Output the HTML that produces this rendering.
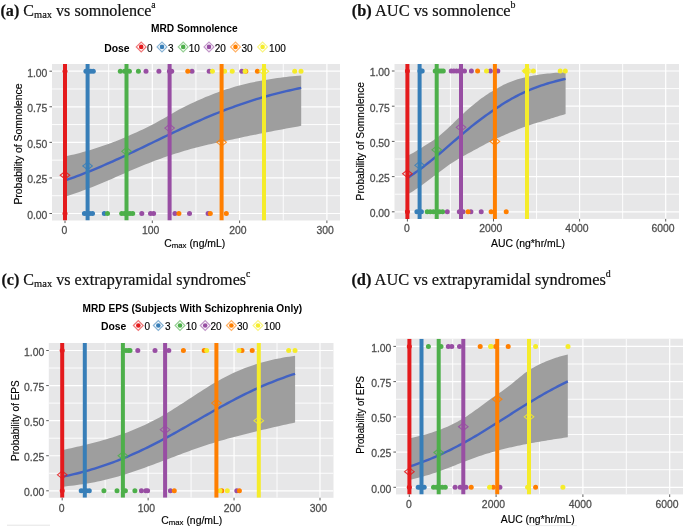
<!DOCTYPE html>
<html><head><meta charset="utf-8"><style>
html,body{margin:0;padding:0;background:#fff;}
body{width:685px;height:527px;overflow:hidden;}
svg{display:block;will-change:transform;}
.ti{font-family:"Liberation Serif",serif;font-size:16.2px;fill:#111;stroke:#111;stroke-width:0.2px;}
.tk{font-family:"Liberation Sans",sans-serif;font-size:10px;fill:#4d4d4d;stroke:#4d4d4d;stroke-width:0.25px;}
.ax{font-family:"Liberation Sans",sans-serif;font-size:10px;fill:#000;stroke:#000;stroke-width:0.15px;}
.lt{font-family:"Liberation Sans",sans-serif;font-size:10px;font-weight:bold;fill:#000;}
.lk{font-family:"Liberation Sans",sans-serif;font-size:10px;fill:#000;stroke:#000;stroke-width:0.15px;}
</style></head><body>
<svg width="685" height="527" viewBox="0 0 685 527">
<rect width="685" height="527" fill="#ffffff"/>
<clipPath id="ca"><rect x="52" y="64" width="288" height="156.5"/></clipPath>
<rect x="52" y="64" width="288" height="156.5" fill="#e7e7e8"/>
<g clip-path="url(#ca)">
<line x1="108.65" y1="64" x2="108.65" y2="220.5" stroke="#ffffff" stroke-width="0.9"/>
<line x1="195.95" y1="64" x2="195.95" y2="220.5" stroke="#ffffff" stroke-width="0.9"/>
<line x1="283.25" y1="64" x2="283.25" y2="220.5" stroke="#ffffff" stroke-width="0.9"/>
<line x1="52" y1="195.71" x2="340" y2="195.71" stroke="#ffffff" stroke-width="0.9"/>
<line x1="52" y1="160.14" x2="340" y2="160.14" stroke="#ffffff" stroke-width="0.9"/>
<line x1="52" y1="124.56" x2="340" y2="124.56" stroke="#ffffff" stroke-width="0.9"/>
<line x1="52" y1="88.99" x2="340" y2="88.99" stroke="#ffffff" stroke-width="0.9"/>
<line x1="65" y1="64" x2="65" y2="220.5" stroke="#ffffff" stroke-width="1.2"/>
<line x1="152.3" y1="64" x2="152.3" y2="220.5" stroke="#ffffff" stroke-width="1.2"/>
<line x1="239.6" y1="64" x2="239.6" y2="220.5" stroke="#ffffff" stroke-width="1.2"/>
<line x1="326.9" y1="64" x2="326.9" y2="220.5" stroke="#ffffff" stroke-width="1.2"/>
<line x1="52" y1="213.5" x2="340" y2="213.5" stroke="#ffffff" stroke-width="1.2"/>
<line x1="52" y1="177.93" x2="340" y2="177.93" stroke="#ffffff" stroke-width="1.2"/>
<line x1="52" y1="142.35" x2="340" y2="142.35" stroke="#ffffff" stroke-width="1.2"/>
<line x1="52" y1="106.78" x2="340" y2="106.78" stroke="#ffffff" stroke-width="1.2"/>
<line x1="52" y1="71.2" x2="340" y2="71.2" stroke="#ffffff" stroke-width="1.2"/>
<path d="M65,156.47 L67.99,155.79 L70.98,155.1 L73.97,154.39 L76.96,153.66 L79.95,152.89 L82.94,152.1 L85.93,151.26 L88.92,150.39 L91.91,149.48 L94.9,148.53 L97.89,147.57 L100.88,146.57 L103.87,145.55 L106.86,144.49 L109.85,143.41 L112.84,142.29 L115.83,141.13 L118.82,139.95 L121.81,138.72 L124.8,137.46 L127.79,136.17 L130.78,134.84 L133.77,133.51 L136.76,132.18 L139.75,130.83 L142.74,129.46 L145.73,128.05 L148.72,126.58 L151.71,125.04 L154.7,123.44 L157.69,121.8 L160.68,120.12 L163.67,118.42 L166.66,116.72 L169.65,114.99 L172.64,113.22 L175.63,111.46 L178.62,109.79 L181.61,108.25 L184.59,106.75 L187.58,105.28 L190.57,103.83 L193.56,102.42 L196.55,101.03 L199.54,99.69 L202.53,98.38 L205.52,97.11 L208.51,95.88 L211.5,94.68 L214.49,93.53 L217.48,92.42 L220.47,91.35 L223.46,90.32 L226.45,89.34 L229.44,88.39 L232.43,87.48 L235.42,86.61 L238.41,85.79 L241.4,84.99 L244.39,84.24 L247.38,83.52 L250.37,82.83 L253.36,82.18 L256.35,81.56 L259.34,80.98 L262.33,80.42 L265.32,79.89 L268.31,79.39 L271.3,78.91 L274.29,78.46 L277.28,78.04 L280.27,77.64 L283.26,77.26 L286.25,76.9 L289.24,76.56 L292.23,76.24 L295.22,75.94 L298.21,75.65 L301.2,75.38 L301.2,125.85 L298.21,126.39 L295.22,126.94 L292.23,127.49 L289.24,128.04 L286.25,128.59 L283.26,129.16 L280.27,129.72 L277.28,130.29 L274.29,130.86 L271.3,131.44 L268.31,132.02 L265.32,132.61 L262.33,133.2 L259.34,133.8 L256.35,134.4 L253.36,135.01 L250.37,135.62 L247.38,136.24 L244.39,136.87 L241.4,137.5 L238.41,138.13 L235.42,138.77 L232.43,139.42 L229.44,140.06 L226.45,140.71 L223.46,141.34 L220.47,141.98 L217.48,142.61 L214.49,143.25 L211.5,143.91 L208.51,144.57 L205.52,145.25 L202.53,145.96 L199.54,146.69 L196.55,147.45 L193.56,148.25 L190.57,149.08 L187.58,149.95 L184.59,150.84 L181.61,151.75 L178.62,152.67 L175.63,153.62 L172.64,154.59 L169.65,155.57 L166.66,156.59 L163.67,157.62 L160.68,158.68 L157.69,159.76 L154.7,160.87 L151.71,162.01 L148.72,163.16 L145.73,164.34 L142.74,165.55 L139.75,166.78 L136.76,168.02 L133.77,169.29 L130.78,170.57 L127.79,171.86 L124.8,173.16 L121.81,174.47 L118.82,175.78 L115.83,177.1 L112.84,178.4 L109.85,179.71 L106.86,181 L103.87,182.27 L100.88,183.54 L97.89,184.78 L94.9,185.99 L91.91,187.19 L88.92,188.35 L85.93,189.49 L82.94,190.6 L79.95,191.67 L76.96,192.72 L73.97,193.72 L70.98,194.7 L67.99,195.64 L65,196.54Z" fill="#9e9e9e"/>
<path d="M65,180.48 L67.99,179.44 L70.98,178.38 L73.97,177.29 L76.96,176.18 L79.95,175.05 L82.94,173.9 L85.93,172.72 L88.92,171.53 L91.91,170.32 L94.9,169.08 L97.89,167.83 L100.88,166.56 L103.87,165.27 L106.86,163.97 L109.85,162.65 L112.84,161.31 L115.83,159.96 L118.82,158.6 L121.81,157.22 L124.8,155.83 L127.79,154.43 L130.78,153.02 L133.77,151.6 L136.76,150.17 L139.75,148.74 L142.74,147.3 L145.73,145.86 L148.72,144.42 L151.71,142.97 L154.7,141.53 L157.69,140.08 L160.68,138.64 L163.67,137.19 L166.66,135.76 L169.65,134.33 L172.64,132.9 L175.63,131.48 L178.62,130.08 L181.61,128.68 L184.59,127.29 L187.58,125.91 L190.57,124.55 L193.56,123.2 L196.55,121.87 L199.54,120.55 L202.53,119.24 L205.52,117.96 L208.51,116.69 L211.5,115.44 L214.49,114.21 L217.48,113 L220.47,111.81 L223.46,110.64 L226.45,109.49 L229.44,108.36 L232.43,107.26 L235.42,106.17 L238.41,105.11 L241.4,104.07 L244.39,103.06 L247.38,102.06 L250.37,101.09 L253.36,100.14 L256.35,99.22 L259.34,98.31 L262.33,97.43 L265.32,96.57 L268.31,95.73 L271.3,94.92 L274.29,94.13 L277.28,93.36 L280.27,92.61 L283.26,91.88 L286.25,91.17 L289.24,90.48 L292.23,89.81 L295.22,89.16 L298.21,88.54 L301.2,87.93" fill="none" stroke="#4262c2" stroke-width="2.4" stroke-linejoin="round"/>
<circle cx="65" cy="71.2" r="2.5" fill="#e41a1c"/>
<circle cx="85.9" cy="71.2" r="2.5" fill="#377eb8"/>
<circle cx="88.37" cy="71.2" r="2.5" fill="#377eb8"/>
<circle cx="90.83" cy="71.2" r="2.5" fill="#377eb8"/>
<circle cx="93.3" cy="71.2" r="2.5" fill="#377eb8"/>
<circle cx="120.3" cy="71.2" r="2.5" fill="#4daf4a"/>
<circle cx="124.5" cy="71.2" r="2.5" fill="#4daf4a"/>
<circle cx="129.4" cy="71.2" r="2.5" fill="#4daf4a"/>
<circle cx="138.4" cy="71.2" r="2.5" fill="#4daf4a"/>
<circle cx="146" cy="71.2" r="2.5" fill="#984ea3"/>
<circle cx="158.9" cy="71.2" r="2.5" fill="#984ea3"/>
<circle cx="169.4" cy="71.2" r="2.5" fill="#984ea3"/>
<circle cx="170.55" cy="71.2" r="2.5" fill="#984ea3"/>
<circle cx="171.7" cy="71.2" r="2.5" fill="#984ea3"/>
<circle cx="192" cy="71.2" r="2.5" fill="#984ea3"/>
<circle cx="209.2" cy="71.2" r="2.5" fill="#984ea3"/>
<circle cx="241.8" cy="71.2" r="2.5" fill="#984ea3"/>
<circle cx="187.8" cy="71.2" r="2.5" fill="#ff7f00"/>
<circle cx="245.8" cy="71.2" r="2.5" fill="#ff7f00"/>
<circle cx="257.4" cy="71.2" r="2.5" fill="#ff7f00"/>
<circle cx="212.4" cy="71.2" r="2.5" fill="#f5ec2a"/>
<circle cx="224.6" cy="71.2" r="2.5" fill="#f5ec2a"/>
<circle cx="232.2" cy="71.2" r="2.5" fill="#f5ec2a"/>
<circle cx="245.1" cy="71.2" r="2.5" fill="#f5ec2a"/>
<circle cx="294.7" cy="71.2" r="2.5" fill="#f5ec2a"/>
<circle cx="301" cy="71.2" r="2.5" fill="#f5ec2a"/>
<circle cx="65" cy="213.5" r="2.5" fill="#e41a1c"/>
<circle cx="84.4" cy="213.5" r="2.5" fill="#377eb8"/>
<circle cx="87.1" cy="213.5" r="2.5" fill="#377eb8"/>
<circle cx="89.8" cy="213.5" r="2.5" fill="#377eb8"/>
<circle cx="92.5" cy="213.5" r="2.5" fill="#377eb8"/>
<circle cx="104.3" cy="213.5" r="2.5" fill="#377eb8"/>
<circle cx="107.5" cy="213.5" r="2.5" fill="#4daf4a"/>
<circle cx="121.7" cy="213.5" r="2.5" fill="#4daf4a"/>
<circle cx="124.45" cy="213.5" r="2.5" fill="#4daf4a"/>
<circle cx="127.2" cy="213.5" r="2.5" fill="#4daf4a"/>
<circle cx="129.95" cy="213.5" r="2.5" fill="#4daf4a"/>
<circle cx="132.7" cy="213.5" r="2.5" fill="#4daf4a"/>
<circle cx="141.8" cy="213.5" r="2.5" fill="#984ea3"/>
<circle cx="150.5" cy="213.5" r="2.5" fill="#984ea3"/>
<circle cx="153.6" cy="213.5" r="2.5" fill="#984ea3"/>
<circle cx="174.9" cy="213.5" r="2.5" fill="#984ea3"/>
<circle cx="189.5" cy="213.5" r="2.5" fill="#984ea3"/>
<circle cx="208.1" cy="213.5" r="2.5" fill="#984ea3"/>
<circle cx="178.9" cy="213.5" r="2.5" fill="#ff7f00"/>
<circle cx="210.3" cy="213.5" r="2.5" fill="#ff7f00"/>
<circle cx="226.3" cy="213.5" r="2.5" fill="#ff7f00"/>
<line x1="65" y1="64" x2="65" y2="220.5" stroke="#e41a1c" stroke-width="4"/>
<line x1="87.6" y1="64" x2="87.6" y2="220.5" stroke="#377eb8" stroke-width="4"/>
<line x1="126.5" y1="64" x2="126.5" y2="220.5" stroke="#4daf4a" stroke-width="4"/>
<line x1="169.6" y1="64" x2="169.6" y2="220.5" stroke="#984ea3" stroke-width="4"/>
<line x1="221.6" y1="64" x2="221.6" y2="220.5" stroke="#ff7f00" stroke-width="4"/>
<line x1="264" y1="64" x2="264" y2="220.5" stroke="#f5ec2a" stroke-width="4"/>
<path d="M60.2,175.22 L65,171.42 L69.8,175.22 L65,179.02Z" fill="none" stroke="#e41a1c" stroke-width="1.1" stroke-opacity="0.85"/>
<path d="M82.8,165.97 L87.6,162.17 L92.4,165.97 L87.6,169.77Z" fill="none" stroke="#377eb8" stroke-width="1.1" stroke-opacity="0.85"/>
<path d="M121.7,151.31 L126.5,147.51 L131.3,151.31 L126.5,155.11Z" fill="none" stroke="#4daf4a" stroke-width="1.1" stroke-opacity="0.85"/>
<path d="M164.8,128.12 L169.6,124.32 L174.4,128.12 L169.6,131.92Z" fill="none" stroke="#984ea3" stroke-width="1.1" stroke-opacity="0.85"/>
<path d="M216.8,142.35 L221.6,138.55 L226.4,142.35 L221.6,146.15Z" fill="none" stroke="#ff7f00" stroke-width="1.1" stroke-opacity="0.85"/>
<path d="M259.2,71.2 L264,67.4 L268.8,71.2 L264,75Z" fill="none" stroke="#f5ec2a" stroke-width="1.1" stroke-opacity="0.85"/>
</g>
<line x1="49.4" y1="213.5" x2="52" y2="213.5" stroke="#333" stroke-width="0.8"/>
<text transform="translate(47.4,218.8) scale(1.04,1)" text-anchor="end" class="tk">0.00</text>
<line x1="49.4" y1="177.93" x2="52" y2="177.93" stroke="#333" stroke-width="0.8"/>
<text transform="translate(47.4,183.23) scale(1.04,1)" text-anchor="end" class="tk">0.25</text>
<line x1="49.4" y1="142.35" x2="52" y2="142.35" stroke="#333" stroke-width="0.8"/>
<text transform="translate(47.4,147.65) scale(1.04,1)" text-anchor="end" class="tk">0.50</text>
<line x1="49.4" y1="106.78" x2="52" y2="106.78" stroke="#333" stroke-width="0.8"/>
<text transform="translate(47.4,112.08) scale(1.04,1)" text-anchor="end" class="tk">0.75</text>
<line x1="49.4" y1="71.2" x2="52" y2="71.2" stroke="#333" stroke-width="0.8"/>
<text transform="translate(47.4,76.5) scale(1.04,1)" text-anchor="end" class="tk">1.00</text>
<line x1="65" y1="220.5" x2="65" y2="223.1" stroke="#333" stroke-width="0.8"/>
<text transform="translate(64.5,234.2) scale(1.04,1)" text-anchor="middle" class="tk">0</text>
<line x1="152.3" y1="220.5" x2="152.3" y2="223.1" stroke="#333" stroke-width="0.8"/>
<text transform="translate(150.6,234.2) scale(1.04,1)" text-anchor="middle" class="tk">100</text>
<line x1="239.6" y1="220.5" x2="239.6" y2="223.1" stroke="#333" stroke-width="0.8"/>
<text transform="translate(237.9,234.2) scale(1.04,1)" text-anchor="middle" class="tk">200</text>
<line x1="326.9" y1="220.5" x2="326.9" y2="223.1" stroke="#333" stroke-width="0.8"/>
<text transform="translate(325.2,234.2) scale(1.04,1)" text-anchor="middle" class="tk">300</text>
<text transform="translate(22.3,144) rotate(-90) scale(1.044,1)" text-anchor="middle" class="ax">Probability of Somnolence</text>
<text transform="translate(164.3,246.5) scale(1.04,1)" class="ax">C<tspan font-size="7.5" dy="1.6">max</tspan><tspan dy="-1.6"> (ng/mL)</tspan></text>
<clipPath id="cb"><rect x="394.5" y="64" width="284.5" height="154.9"/></clipPath>
<rect x="394.5" y="64" width="284.5" height="154.9" fill="#e7e7e8"/>
<g clip-path="url(#cb)">
<line x1="450.45" y1="64" x2="450.45" y2="218.9" stroke="#ffffff" stroke-width="0.9"/>
<line x1="536.55" y1="64" x2="536.55" y2="218.9" stroke="#ffffff" stroke-width="0.9"/>
<line x1="622.65" y1="64" x2="622.65" y2="218.9" stroke="#ffffff" stroke-width="0.9"/>
<line x1="394.5" y1="194.2" x2="679" y2="194.2" stroke="#ffffff" stroke-width="0.9"/>
<line x1="394.5" y1="159" x2="679" y2="159" stroke="#ffffff" stroke-width="0.9"/>
<line x1="394.5" y1="123.8" x2="679" y2="123.8" stroke="#ffffff" stroke-width="0.9"/>
<line x1="394.5" y1="88.6" x2="679" y2="88.6" stroke="#ffffff" stroke-width="0.9"/>
<line x1="407.4" y1="64" x2="407.4" y2="218.9" stroke="#ffffff" stroke-width="1.2"/>
<line x1="493.5" y1="64" x2="493.5" y2="218.9" stroke="#ffffff" stroke-width="1.2"/>
<line x1="579.6" y1="64" x2="579.6" y2="218.9" stroke="#ffffff" stroke-width="1.2"/>
<line x1="665.7" y1="64" x2="665.7" y2="218.9" stroke="#ffffff" stroke-width="1.2"/>
<line x1="394.5" y1="211.8" x2="679" y2="211.8" stroke="#ffffff" stroke-width="1.2"/>
<line x1="394.5" y1="176.6" x2="679" y2="176.6" stroke="#ffffff" stroke-width="1.2"/>
<line x1="394.5" y1="141.4" x2="679" y2="141.4" stroke="#ffffff" stroke-width="1.2"/>
<line x1="394.5" y1="106.2" x2="679" y2="106.2" stroke="#ffffff" stroke-width="1.2"/>
<line x1="394.5" y1="71" x2="679" y2="71" stroke="#ffffff" stroke-width="1.2"/>
<path d="M407.4,155.9 L409.4,154.85 L411.41,153.78 L413.41,152.68 L415.41,151.54 L417.41,150.36 L419.42,149.15 L421.42,147.9 L423.42,146.61 L425.42,145.28 L427.43,143.98 L429.43,142.74 L431.43,141.5 L433.43,140.22 L435.44,138.87 L437.44,137.4 L439.44,135.78 L441.44,134.07 L443.45,132.31 L445.45,130.51 L447.45,128.67 L449.45,126.8 L451.46,124.9 L453.46,122.98 L455.46,121.05 L457.46,119.12 L459.47,117.19 L461.47,115.28 L463.47,113.38 L465.47,111.54 L467.48,109.75 L469.48,108.02 L471.48,106.33 L473.48,104.67 L475.49,103.04 L477.49,101.43 L479.49,99.87 L481.49,98.35 L483.5,96.9 L485.5,95.5 L487.5,94.16 L489.5,92.87 L491.51,91.65 L493.51,90.47 L495.51,89.3 L497.51,88.13 L499.52,86.99 L501.52,85.89 L503.52,84.85 L505.52,83.91 L507.53,83.03 L509.53,82.19 L511.53,81.41 L513.53,80.67 L515.54,79.98 L517.54,79.33 L519.54,78.73 L521.54,78.17 L523.55,77.66 L525.55,77.18 L527.55,76.73 L529.55,76.32 L531.56,75.93 L533.56,75.56 L535.56,75.22 L537.56,74.9 L539.57,74.6 L541.57,74.33 L543.57,74.07 L545.57,73.83 L547.58,73.61 L549.58,73.4 L551.58,73.21 L553.58,73.03 L555.59,72.87 L557.59,72.72 L559.59,72.58 L561.59,72.46 L563.6,72.34 L565.6,72.24 L565.6,114.03 L563.6,114.64 L561.59,115.25 L559.59,115.86 L557.59,116.47 L555.59,117.08 L553.58,117.7 L551.58,118.32 L549.58,118.95 L547.58,119.57 L545.57,120.18 L543.57,120.78 L541.57,121.38 L539.57,121.98 L537.56,122.58 L535.56,123.2 L533.56,123.82 L531.56,124.47 L529.55,125.14 L527.55,125.83 L525.55,126.56 L523.55,127.31 L521.54,128.07 L519.54,128.84 L517.54,129.61 L515.54,130.41 L513.53,131.21 L511.53,132.02 L509.53,132.84 L507.53,133.68 L505.52,134.53 L503.52,135.4 L501.52,136.27 L499.52,137.17 L497.51,138.09 L495.51,139.04 L493.51,140.01 L491.51,141.01 L489.5,142.03 L487.5,143.06 L485.5,144.11 L483.5,145.17 L481.49,146.24 L479.49,147.32 L477.49,148.4 L475.49,149.48 L473.48,150.57 L471.48,151.65 L469.48,152.73 L467.48,153.82 L465.47,154.92 L463.47,156.03 L461.47,157.16 L459.47,158.32 L457.46,159.51 L455.46,160.72 L453.46,161.98 L451.46,163.27 L449.45,164.61 L447.45,165.99 L445.45,167.43 L443.45,168.9 L441.44,170.39 L439.44,171.9 L437.44,173.43 L435.44,174.96 L433.43,176.49 L431.43,178.03 L429.43,179.56 L427.43,181.07 L425.42,182.57 L423.42,184.04 L421.42,185.49 L419.42,186.9 L417.41,188.28 L415.41,189.62 L413.41,190.91 L411.41,192.16 L409.4,193.37 L407.4,194.53Z" fill="#9e9e9e"/>
<path d="M407.4,177.97 L409.4,176.66 L411.41,175.32 L413.41,173.95 L415.41,172.55 L417.41,171.12 L419.42,169.67 L421.42,168.18 L423.42,166.67 L425.42,165.13 L427.43,163.56 L429.43,161.98 L431.43,160.37 L433.43,158.74 L435.44,157.09 L437.44,155.43 L439.44,153.74 L441.44,152.05 L443.45,150.34 L445.45,148.63 L447.45,146.91 L449.45,145.18 L451.46,143.45 L453.46,141.71 L455.46,139.98 L457.46,138.25 L459.47,136.53 L461.47,134.82 L463.47,133.11 L465.47,131.42 L467.48,129.74 L469.48,128.07 L471.48,126.43 L473.48,124.83 L475.49,123.26 L477.49,121.72 L479.49,120.2 L481.49,118.72 L483.5,117.26 L485.5,115.81 L487.5,114.39 L489.5,112.98 L491.51,111.58 L493.51,110.18 L495.51,108.81 L497.51,107.46 L499.52,106.13 L501.52,104.84 L503.52,103.57 L505.52,102.33 L507.53,101.13 L509.53,99.95 L511.53,98.81 L513.53,97.69 L515.54,96.61 L517.54,95.57 L519.54,94.55 L521.54,93.58 L523.55,92.63 L525.55,91.72 L527.55,90.84 L529.55,89.99 L531.56,89.16 L533.56,88.37 L535.56,87.6 L537.56,86.86 L539.57,86.14 L541.57,85.45 L543.57,84.78 L545.57,84.14 L547.58,83.52 L549.58,82.92 L551.58,82.34 L553.58,81.79 L555.59,81.25 L557.59,80.73 L559.59,80.23 L561.59,79.75 L563.6,79.28 L565.6,78.84" fill="none" stroke="#4262c2" stroke-width="2.4" stroke-linejoin="round"/>
<circle cx="407.4" cy="71" r="2.5" fill="#e41a1c"/>
<circle cx="419.9" cy="71" r="2.5" fill="#377eb8"/>
<circle cx="421.05" cy="71" r="2.5" fill="#377eb8"/>
<circle cx="422.2" cy="71" r="2.5" fill="#377eb8"/>
<circle cx="435.2" cy="71" r="2.5" fill="#4daf4a"/>
<circle cx="437.23" cy="71" r="2.5" fill="#4daf4a"/>
<circle cx="439.25" cy="71" r="2.5" fill="#4daf4a"/>
<circle cx="441.27" cy="71" r="2.5" fill="#4daf4a"/>
<circle cx="443.3" cy="71" r="2.5" fill="#4daf4a"/>
<circle cx="451.2" cy="71" r="2.5" fill="#984ea3"/>
<circle cx="453.86" cy="71" r="2.5" fill="#984ea3"/>
<circle cx="456.52" cy="71" r="2.5" fill="#984ea3"/>
<circle cx="459.18" cy="71" r="2.5" fill="#984ea3"/>
<circle cx="461.84" cy="71" r="2.5" fill="#984ea3"/>
<circle cx="464.5" cy="71" r="2.5" fill="#984ea3"/>
<circle cx="471.4" cy="71" r="2.5" fill="#984ea3"/>
<circle cx="490.4" cy="71" r="2.5" fill="#984ea3"/>
<circle cx="497.8" cy="71" r="2.5" fill="#984ea3"/>
<circle cx="477.6" cy="71" r="2.5" fill="#ff7f00"/>
<circle cx="486.5" cy="71" r="2.5" fill="#f5ec2a"/>
<circle cx="525.3" cy="71" r="2.5" fill="#f5ec2a"/>
<circle cx="527.2" cy="71" r="2.5" fill="#f5ec2a"/>
<circle cx="533.4" cy="71" r="2.5" fill="#f5ec2a"/>
<circle cx="560.2" cy="71" r="2.5" fill="#f5ec2a"/>
<circle cx="565.3" cy="71" r="2.5" fill="#f5ec2a"/>
<circle cx="407.4" cy="211.8" r="2.5" fill="#e41a1c"/>
<circle cx="416.9" cy="211.8" r="2.5" fill="#377eb8"/>
<circle cx="419.15" cy="211.8" r="2.5" fill="#377eb8"/>
<circle cx="421.4" cy="211.8" r="2.5" fill="#377eb8"/>
<circle cx="427.2" cy="211.8" r="2.5" fill="#4daf4a"/>
<circle cx="430.28" cy="211.8" r="2.5" fill="#4daf4a"/>
<circle cx="433.36" cy="211.8" r="2.5" fill="#4daf4a"/>
<circle cx="436.44" cy="211.8" r="2.5" fill="#4daf4a"/>
<circle cx="439.52" cy="211.8" r="2.5" fill="#4daf4a"/>
<circle cx="442.6" cy="211.8" r="2.5" fill="#4daf4a"/>
<circle cx="447.3" cy="211.8" r="2.5" fill="#984ea3"/>
<circle cx="459.3" cy="211.8" r="2.5" fill="#984ea3"/>
<circle cx="461.15" cy="211.8" r="2.5" fill="#984ea3"/>
<circle cx="463" cy="211.8" r="2.5" fill="#984ea3"/>
<circle cx="470.9" cy="211.8" r="2.5" fill="#984ea3"/>
<circle cx="481.2" cy="211.8" r="2.5" fill="#984ea3"/>
<circle cx="468" cy="211.8" r="2.5" fill="#ff7f00"/>
<circle cx="491.1" cy="211.8" r="2.5" fill="#ff7f00"/>
<circle cx="506.2" cy="211.8" r="2.5" fill="#ff7f00"/>
<line x1="407.4" y1="64" x2="407.4" y2="218.9" stroke="#e41a1c" stroke-width="4"/>
<line x1="419.6" y1="64" x2="419.6" y2="218.9" stroke="#377eb8" stroke-width="4"/>
<line x1="436.7" y1="64" x2="436.7" y2="218.9" stroke="#4daf4a" stroke-width="4"/>
<line x1="461" y1="64" x2="461" y2="218.9" stroke="#984ea3" stroke-width="4"/>
<line x1="494.9" y1="64" x2="494.9" y2="218.9" stroke="#ff7f00" stroke-width="4"/>
<line x1="527" y1="64" x2="527" y2="218.9" stroke="#f5ec2a" stroke-width="4"/>
<path d="M402.6,173.78 L407.4,169.98 L412.2,173.78 L407.4,177.58Z" fill="none" stroke="#e41a1c" stroke-width="1.1" stroke-opacity="0.85"/>
<path d="M414.8,165.34 L419.6,161.54 L424.4,165.34 L419.6,169.14Z" fill="none" stroke="#377eb8" stroke-width="1.1" stroke-opacity="0.85"/>
<path d="M431.9,149.85 L436.7,146.05 L441.5,149.85 L436.7,153.65Z" fill="none" stroke="#4daf4a" stroke-width="1.1" stroke-opacity="0.85"/>
<path d="M456.2,127.32 L461,123.52 L465.8,127.32 L461,131.12Z" fill="none" stroke="#984ea3" stroke-width="1.1" stroke-opacity="0.85"/>
<path d="M490.1,141.4 L494.9,137.6 L499.7,141.4 L494.9,145.2Z" fill="none" stroke="#ff7f00" stroke-width="1.1" stroke-opacity="0.85"/>
<path d="M522.2,71 L527,67.2 L531.8,71 L527,74.8Z" fill="none" stroke="#f5ec2a" stroke-width="1.1" stroke-opacity="0.85"/>
</g>
<line x1="391.9" y1="211.8" x2="394.5" y2="211.8" stroke="#333" stroke-width="0.8"/>
<text transform="translate(389.9,217.1) scale(1.04,1)" text-anchor="end" class="tk">0.00</text>
<line x1="391.9" y1="176.6" x2="394.5" y2="176.6" stroke="#333" stroke-width="0.8"/>
<text transform="translate(389.9,181.9) scale(1.04,1)" text-anchor="end" class="tk">0.25</text>
<line x1="391.9" y1="141.4" x2="394.5" y2="141.4" stroke="#333" stroke-width="0.8"/>
<text transform="translate(389.9,146.7) scale(1.04,1)" text-anchor="end" class="tk">0.50</text>
<line x1="391.9" y1="106.2" x2="394.5" y2="106.2" stroke="#333" stroke-width="0.8"/>
<text transform="translate(389.9,111.5) scale(1.04,1)" text-anchor="end" class="tk">0.75</text>
<line x1="391.9" y1="71" x2="394.5" y2="71" stroke="#333" stroke-width="0.8"/>
<text transform="translate(389.9,76.3) scale(1.04,1)" text-anchor="end" class="tk">1.00</text>
<line x1="407.4" y1="218.9" x2="407.4" y2="221.5" stroke="#333" stroke-width="0.8"/>
<text transform="translate(406.9,231.8) scale(1.04,1)" text-anchor="middle" class="tk">0</text>
<line x1="493.5" y1="218.9" x2="493.5" y2="221.5" stroke="#333" stroke-width="0.8"/>
<text transform="translate(490.8,231.8) scale(1.04,1)" text-anchor="middle" class="tk">2000</text>
<line x1="579.6" y1="218.9" x2="579.6" y2="221.5" stroke="#333" stroke-width="0.8"/>
<text transform="translate(576.9,231.8) scale(1.04,1)" text-anchor="middle" class="tk">4000</text>
<line x1="665.7" y1="218.9" x2="665.7" y2="221.5" stroke="#333" stroke-width="0.8"/>
<text transform="translate(663,231.8) scale(1.04,1)" text-anchor="middle" class="tk">6000</text>
<text transform="translate(364.3,141.2) rotate(-90) scale(1.02,1)" text-anchor="middle" class="ax">Probability of Somnolence</text>
<text transform="translate(491,246.8) scale(1.04,1)" class="ax">AUC (ng*hr/mL)</text>
<clipPath id="cc"><rect x="48.8" y="343" width="284.7" height="154.8"/></clipPath>
<rect x="48.8" y="343" width="284.7" height="154.8" fill="#e7e7e8"/>
<g clip-path="url(#cc)">
<line x1="105.16" y1="343" x2="105.16" y2="497.8" stroke="#ffffff" stroke-width="0.9"/>
<line x1="191.09" y1="343" x2="191.09" y2="497.8" stroke="#ffffff" stroke-width="0.9"/>
<line x1="277.02" y1="343" x2="277.02" y2="497.8" stroke="#ffffff" stroke-width="0.9"/>
<line x1="48.8" y1="473.26" x2="333.5" y2="473.26" stroke="#ffffff" stroke-width="0.9"/>
<line x1="48.8" y1="438.19" x2="333.5" y2="438.19" stroke="#ffffff" stroke-width="0.9"/>
<line x1="48.8" y1="403.11" x2="333.5" y2="403.11" stroke="#ffffff" stroke-width="0.9"/>
<line x1="48.8" y1="368.04" x2="333.5" y2="368.04" stroke="#ffffff" stroke-width="0.9"/>
<line x1="62.2" y1="343" x2="62.2" y2="497.8" stroke="#ffffff" stroke-width="1.2"/>
<line x1="148.13" y1="343" x2="148.13" y2="497.8" stroke="#ffffff" stroke-width="1.2"/>
<line x1="234.06" y1="343" x2="234.06" y2="497.8" stroke="#ffffff" stroke-width="1.2"/>
<line x1="319.99" y1="343" x2="319.99" y2="497.8" stroke="#ffffff" stroke-width="1.2"/>
<line x1="48.8" y1="490.8" x2="333.5" y2="490.8" stroke="#ffffff" stroke-width="1.2"/>
<line x1="48.8" y1="455.73" x2="333.5" y2="455.73" stroke="#ffffff" stroke-width="1.2"/>
<line x1="48.8" y1="420.65" x2="333.5" y2="420.65" stroke="#ffffff" stroke-width="1.2"/>
<line x1="48.8" y1="385.57" x2="333.5" y2="385.57" stroke="#ffffff" stroke-width="1.2"/>
<line x1="48.8" y1="350.5" x2="333.5" y2="350.5" stroke="#ffffff" stroke-width="1.2"/>
<path d="M62.2,450.03 L65.15,449.43 L68.1,448.81 L71.04,448.17 L73.99,447.53 L76.94,446.87 L79.89,446.19 L82.84,445.5 L85.78,444.79 L88.73,444.06 L91.68,443.32 L94.63,442.55 L97.58,441.76 L100.53,440.95 L103.47,440.12 L106.42,439.26 L109.37,438.37 L112.32,437.46 L115.27,436.51 L118.21,435.54 L121.16,434.52 L124.11,433.47 L127.06,432.39 L130.01,431.26 L132.95,430.09 L135.9,428.87 L138.85,427.61 L141.8,426.3 L144.75,424.94 L147.69,423.53 L150.64,422.07 L153.59,420.56 L156.54,418.99 L159.49,417.38 L162.44,415.71 L165.38,414 L168.33,412.24 L171.28,410.45 L174.23,408.61 L177.18,406.75 L180.12,404.85 L183.07,402.94 L186.02,401.02 L188.97,399.08 L191.92,397.15 L194.86,395.21 L197.81,393.3 L200.76,391.39 L203.71,389.52 L206.66,387.67 L209.61,385.86 L212.55,384.08 L215.5,382.36 L218.45,380.67 L221.4,379.04 L224.35,377.47 L227.29,375.95 L230.24,374.48 L233.19,373.08 L236.14,371.73 L239.09,370.44 L242.03,369.22 L244.98,368.05 L247.93,366.94 L250.88,365.89 L253.83,364.89 L256.77,363.95 L259.72,363.06 L262.67,362.22 L265.62,361.43 L268.57,360.68 L271.52,359.98 L274.46,359.33 L277.41,358.71 L280.36,358.14 L283.31,357.6 L286.26,357.1 L289.2,356.63 L292.15,356.19 L295.1,355.78 L295.1,422.55 L292.15,423.19 L289.2,423.82 L286.26,424.47 L283.31,425.12 L280.36,425.77 L277.41,426.43 L274.46,427.1 L271.52,427.77 L268.57,428.45 L265.62,429.14 L262.67,429.83 L259.72,430.54 L256.77,431.24 L253.83,431.96 L250.88,432.68 L247.93,433.41 L244.98,434.15 L242.03,434.9 L239.09,435.66 L236.14,436.43 L233.19,437.22 L230.24,438.01 L227.29,438.82 L224.35,439.64 L221.4,440.48 L218.45,441.34 L215.5,442.22 L212.55,443.13 L209.61,444.06 L206.66,445.01 L203.71,445.99 L200.76,446.99 L197.81,448 L194.86,449.04 L191.92,450.09 L188.97,451.16 L186.02,452.25 L183.07,453.34 L180.12,454.45 L177.18,455.56 L174.23,456.68 L171.28,457.79 L168.33,458.9 L165.38,460 L162.44,461.1 L159.49,462.2 L156.54,463.3 L153.59,464.4 L150.64,465.49 L147.69,466.59 L144.75,467.68 L141.8,468.75 L138.85,469.8 L135.9,470.83 L132.95,471.83 L130.01,472.81 L127.06,473.77 L124.11,474.69 L121.16,475.59 L118.21,476.46 L115.27,477.29 L112.32,478.09 L109.37,478.85 L106.42,479.58 L103.47,480.27 L100.53,480.92 L97.58,481.54 L94.63,482.13 L91.68,482.69 L88.73,483.21 L85.78,483.7 L82.84,484.17 L79.89,484.6 L76.94,485.02 L73.99,485.4 L71.04,485.76 L68.1,486.11 L65.15,486.43 L62.2,486.73Z" fill="#9e9e9e"/>
<path d="M62.2,476.82 L65.15,476.2 L68.1,475.56 L71.04,474.89 L73.99,474.2 L76.94,473.48 L79.89,472.73 L82.84,471.95 L85.78,471.15 L88.73,470.32 L91.68,469.46 L94.63,468.57 L97.58,467.66 L100.53,466.71 L103.47,465.73 L106.42,464.72 L109.37,463.68 L112.32,462.6 L115.27,461.5 L118.21,460.36 L121.16,459.2 L124.11,458 L127.06,456.77 L130.01,455.51 L132.95,454.22 L135.9,452.89 L138.85,451.54 L141.8,450.16 L144.75,448.75 L147.69,447.32 L150.64,445.86 L153.59,444.37 L156.54,442.85 L159.49,441.32 L162.44,439.76 L165.38,438.18 L168.33,436.58 L171.28,434.97 L174.23,433.34 L177.18,431.69 L180.12,430.03 L183.07,428.36 L186.02,426.68 L188.97,425 L191.92,423.31 L194.86,421.62 L197.81,419.92 L200.76,418.23 L203.71,416.54 L206.66,414.85 L209.61,413.17 L212.55,411.5 L215.5,409.84 L218.45,408.19 L221.4,406.56 L224.35,404.94 L227.29,403.34 L230.24,401.76 L233.19,400.2 L236.14,398.66 L239.09,397.14 L242.03,395.65 L244.98,394.19 L247.93,392.75 L250.88,391.33 L253.83,389.95 L256.77,388.59 L259.72,387.27 L262.67,385.97 L265.62,384.71 L268.57,383.47 L271.52,382.27 L274.46,381.1 L277.41,379.96 L280.36,378.85 L283.31,377.77 L286.26,376.73 L289.2,375.71 L292.15,374.73 L295.1,373.78" fill="none" stroke="#4262c2" stroke-width="2.4" stroke-linejoin="round"/>
<circle cx="62.2" cy="350.5" r="2.5" fill="#e41a1c"/>
<circle cx="126" cy="350.5" r="2.5" fill="#4daf4a"/>
<circle cx="128.5" cy="350.5" r="2.5" fill="#4daf4a"/>
<circle cx="130" cy="350.5" r="2.5" fill="#4daf4a"/>
<circle cx="137.8" cy="350.5" r="2.5" fill="#984ea3"/>
<circle cx="155" cy="350.5" r="2.5" fill="#984ea3"/>
<circle cx="168.8" cy="350.5" r="2.5" fill="#984ea3"/>
<circle cx="183.4" cy="350.5" r="2.5" fill="#ff7f00"/>
<circle cx="204.2" cy="350.5" r="2.5" fill="#ff7f00"/>
<circle cx="242" cy="350.5" r="2.5" fill="#ff7f00"/>
<circle cx="252.2" cy="350.5" r="2.5" fill="#ff7f00"/>
<circle cx="206.7" cy="350.5" r="2.5" fill="#f5ec2a"/>
<circle cx="239" cy="350.5" r="2.5" fill="#f5ec2a"/>
<circle cx="288.7" cy="350.5" r="2.5" fill="#f5ec2a"/>
<circle cx="295" cy="350.5" r="2.5" fill="#f5ec2a"/>
<circle cx="62.2" cy="490.8" r="2.5" fill="#e41a1c"/>
<circle cx="81.2" cy="490.8" r="2.5" fill="#377eb8"/>
<circle cx="83.9" cy="490.8" r="2.5" fill="#377eb8"/>
<circle cx="86.6" cy="490.8" r="2.5" fill="#377eb8"/>
<circle cx="89.3" cy="490.8" r="2.5" fill="#377eb8"/>
<circle cx="103.9" cy="490.8" r="2.5" fill="#4daf4a"/>
<circle cx="117" cy="490.8" r="2.5" fill="#4daf4a"/>
<circle cx="125.4" cy="490.8" r="2.5" fill="#4daf4a"/>
<circle cx="134.9" cy="490.8" r="2.5" fill="#4daf4a"/>
<circle cx="141.4" cy="490.8" r="2.5" fill="#984ea3"/>
<circle cx="145.8" cy="490.8" r="2.5" fill="#984ea3"/>
<circle cx="147.6" cy="490.8" r="2.5" fill="#984ea3"/>
<circle cx="170.4" cy="490.8" r="2.5" fill="#984ea3"/>
<circle cx="236.8" cy="490.8" r="2.5" fill="#984ea3"/>
<circle cx="174.3" cy="490.8" r="2.5" fill="#ff7f00"/>
<circle cx="221.8" cy="490.8" r="2.5" fill="#ff7f00"/>
<circle cx="239.4" cy="490.8" r="2.5" fill="#ff7f00"/>
<circle cx="220" cy="490.8" r="2.5" fill="#f5ec2a"/>
<circle cx="227.3" cy="490.8" r="2.5" fill="#f5ec2a"/>
<line x1="62.2" y1="343" x2="62.2" y2="497.8" stroke="#e41a1c" stroke-width="4"/>
<line x1="84.8" y1="343" x2="84.8" y2="497.8" stroke="#377eb8" stroke-width="4"/>
<line x1="122.9" y1="343" x2="122.9" y2="497.8" stroke="#4daf4a" stroke-width="4"/>
<line x1="165.1" y1="343" x2="165.1" y2="497.8" stroke="#984ea3" stroke-width="4"/>
<line x1="216.4" y1="343" x2="216.4" y2="497.8" stroke="#ff7f00" stroke-width="4"/>
<line x1="258.8" y1="343" x2="258.8" y2="497.8" stroke="#f5ec2a" stroke-width="4"/>
<path d="M57.4,474.81 L62.2,471.01 L67,474.81 L62.2,478.61Z" fill="none" stroke="#e41a1c" stroke-width="1.1" stroke-opacity="0.85"/>
<path d="M118.1,455.73 L122.9,451.93 L127.7,455.73 L122.9,459.53Z" fill="none" stroke="#4daf4a" stroke-width="1.1" stroke-opacity="0.85"/>
<path d="M160.3,429.63 L165.1,425.83 L169.9,429.63 L165.1,433.43Z" fill="none" stroke="#984ea3" stroke-width="1.1" stroke-opacity="0.85"/>
<path d="M211.6,403.11 L216.4,399.31 L221.2,403.11 L216.4,406.91Z" fill="none" stroke="#ff7f00" stroke-width="1.1" stroke-opacity="0.85"/>
<path d="M254,420.65 L258.8,416.85 L263.6,420.65 L258.8,424.45Z" fill="none" stroke="#f5ec2a" stroke-width="1.1" stroke-opacity="0.85"/>
</g>
<line x1="46.2" y1="490.8" x2="48.8" y2="490.8" stroke="#333" stroke-width="0.8"/>
<text transform="translate(44.2,496.1) scale(1.04,1)" text-anchor="end" class="tk">0.00</text>
<line x1="46.2" y1="455.73" x2="48.8" y2="455.73" stroke="#333" stroke-width="0.8"/>
<text transform="translate(44.2,461.03) scale(1.04,1)" text-anchor="end" class="tk">0.25</text>
<line x1="46.2" y1="420.65" x2="48.8" y2="420.65" stroke="#333" stroke-width="0.8"/>
<text transform="translate(44.2,425.95) scale(1.04,1)" text-anchor="end" class="tk">0.50</text>
<line x1="46.2" y1="385.57" x2="48.8" y2="385.57" stroke="#333" stroke-width="0.8"/>
<text transform="translate(44.2,390.88) scale(1.04,1)" text-anchor="end" class="tk">0.75</text>
<line x1="46.2" y1="350.5" x2="48.8" y2="350.5" stroke="#333" stroke-width="0.8"/>
<text transform="translate(44.2,355.8) scale(1.04,1)" text-anchor="end" class="tk">1.00</text>
<line x1="62.2" y1="497.8" x2="62.2" y2="500.4" stroke="#333" stroke-width="0.8"/>
<text transform="translate(61.7,511.5) scale(1.04,1)" text-anchor="middle" class="tk">0</text>
<line x1="148.13" y1="497.8" x2="148.13" y2="500.4" stroke="#333" stroke-width="0.8"/>
<text transform="translate(146.43,511.5) scale(1.04,1)" text-anchor="middle" class="tk">100</text>
<line x1="234.06" y1="497.8" x2="234.06" y2="500.4" stroke="#333" stroke-width="0.8"/>
<text transform="translate(232.36,511.5) scale(1.04,1)" text-anchor="middle" class="tk">200</text>
<line x1="319.99" y1="497.8" x2="319.99" y2="500.4" stroke="#333" stroke-width="0.8"/>
<text transform="translate(318.29,511.5) scale(1.04,1)" text-anchor="middle" class="tk">300</text>
<text transform="translate(19.2,420.6) rotate(-90)" text-anchor="middle" class="ax">Probability of EPS</text>
<text transform="translate(161.3,523.5) scale(1.04,1)" class="ax">C<tspan font-size="7.5" dy="1.6">max</tspan><tspan dy="-1.6"> (ng/mL)</tspan></text>
<clipPath id="cd"><rect x="396" y="338.7" width="287" height="155.7"/></clipPath>
<rect x="396" y="338.7" width="287" height="155.7" fill="#e7e7e8"/>
<g clip-path="url(#cd)">
<line x1="452.7" y1="338.7" x2="452.7" y2="494.4" stroke="#ffffff" stroke-width="0.9"/>
<line x1="539.5" y1="338.7" x2="539.5" y2="494.4" stroke="#ffffff" stroke-width="0.9"/>
<line x1="626.3" y1="338.7" x2="626.3" y2="494.4" stroke="#ffffff" stroke-width="0.9"/>
<line x1="396" y1="469.69" x2="683" y2="469.69" stroke="#ffffff" stroke-width="0.9"/>
<line x1="396" y1="434.46" x2="683" y2="434.46" stroke="#ffffff" stroke-width="0.9"/>
<line x1="396" y1="399.24" x2="683" y2="399.24" stroke="#ffffff" stroke-width="0.9"/>
<line x1="396" y1="364.01" x2="683" y2="364.01" stroke="#ffffff" stroke-width="0.9"/>
<line x1="409.3" y1="338.7" x2="409.3" y2="494.4" stroke="#ffffff" stroke-width="1.2"/>
<line x1="496.1" y1="338.7" x2="496.1" y2="494.4" stroke="#ffffff" stroke-width="1.2"/>
<line x1="582.9" y1="338.7" x2="582.9" y2="494.4" stroke="#ffffff" stroke-width="1.2"/>
<line x1="669.7" y1="338.7" x2="669.7" y2="494.4" stroke="#ffffff" stroke-width="1.2"/>
<line x1="396" y1="487.3" x2="683" y2="487.3" stroke="#ffffff" stroke-width="1.2"/>
<line x1="396" y1="452.07" x2="683" y2="452.07" stroke="#ffffff" stroke-width="1.2"/>
<line x1="396" y1="416.85" x2="683" y2="416.85" stroke="#ffffff" stroke-width="1.2"/>
<line x1="396" y1="381.62" x2="683" y2="381.62" stroke="#ffffff" stroke-width="1.2"/>
<line x1="396" y1="346.4" x2="683" y2="346.4" stroke="#ffffff" stroke-width="1.2"/>
<path d="M409.3,438.43 L411.31,437.99 L413.31,437.54 L415.32,437.07 L417.33,436.58 L419.33,436.08 L421.34,435.57 L423.34,435.03 L425.35,434.47 L427.36,433.9 L429.36,433.3 L431.37,432.67 L433.38,432.02 L435.38,431.35 L437.39,430.64 L439.39,429.91 L441.4,429.14 L443.41,428.34 L445.41,427.51 L447.42,426.64 L449.43,425.73 L451.43,424.78 L453.44,423.79 L455.45,422.76 L457.45,421.68 L459.46,420.56 L461.46,419.4 L463.47,418.2 L465.48,416.95 L467.48,415.66 L469.49,414.32 L471.5,412.95 L473.5,411.55 L475.51,410.11 L477.52,408.65 L479.52,407.17 L481.53,405.68 L483.53,404.19 L485.54,402.7 L487.55,401.23 L489.55,399.78 L491.56,398.35 L493.57,396.95 L495.57,395.57 L497.58,394.2 L499.58,392.83 L501.59,391.45 L503.6,390.03 L505.6,388.57 L507.61,387.06 L509.62,385.5 L511.62,383.89 L513.63,382.24 L515.64,380.57 L517.64,378.9 L519.65,377.26 L521.65,375.65 L523.66,374.1 L525.67,372.62 L527.67,371.21 L529.68,369.87 L531.69,368.61 L533.69,367.43 L535.7,366.31 L537.71,365.25 L539.71,364.24 L541.72,363.29 L543.72,362.38 L545.73,361.52 L547.74,360.7 L549.74,359.92 L551.75,359.17 L553.76,358.46 L555.76,357.79 L557.77,357.15 L559.77,356.54 L561.78,355.96 L563.79,355.42 L565.79,354.9 L567.8,354.41 L567.8,437.24 L565.79,437.54 L563.79,437.84 L561.78,438.14 L559.77,438.44 L557.77,438.75 L555.76,439.06 L553.76,439.37 L551.75,439.69 L549.74,440.01 L547.74,440.33 L545.73,440.66 L543.72,441 L541.72,441.33 L539.71,441.67 L537.71,442.02 L535.7,442.37 L533.69,442.73 L531.69,443.1 L529.68,443.47 L527.67,443.85 L525.67,444.23 L523.66,444.62 L521.65,445.02 L519.65,445.43 L517.64,445.85 L515.64,446.27 L513.63,446.71 L511.62,447.15 L509.62,447.61 L507.61,448.08 L505.6,448.56 L503.6,449.05 L501.59,449.55 L499.58,450.07 L497.58,450.61 L495.57,451.15 L493.57,451.72 L491.56,452.29 L489.55,452.89 L487.55,453.5 L485.54,454.12 L483.53,454.77 L481.53,455.42 L479.52,456.1 L477.52,456.79 L475.51,457.5 L473.5,458.22 L471.5,458.95 L469.49,459.7 L467.48,460.46 L465.48,461.23 L463.47,462.01 L461.46,462.79 L459.46,463.58 L457.45,464.37 L455.45,465.16 L453.44,465.95 L451.43,466.74 L449.43,467.52 L447.42,468.29 L445.41,469.06 L443.41,469.81 L441.4,470.55 L439.39,471.27 L437.39,471.98 L435.38,472.67 L433.38,473.35 L431.37,474 L429.36,474.64 L427.36,475.25 L425.35,475.84 L423.34,476.42 L421.34,476.97 L419.33,477.5 L417.33,478 L415.32,478.49 L413.31,478.96 L411.31,479.41 L409.3,479.83Z" fill="#9e9e9e"/>
<path d="M409.3,466.58 L411.31,465.93 L413.31,465.27 L415.32,464.58 L417.33,463.89 L419.33,463.17 L421.34,462.44 L423.34,461.68 L425.35,460.91 L427.36,460.13 L429.36,459.32 L431.37,458.5 L433.38,457.66 L435.38,456.81 L437.39,455.93 L439.39,455.04 L441.4,454.13 L443.41,453.2 L445.41,452.25 L447.42,451.29 L449.43,450.31 L451.43,449.31 L453.44,448.29 L455.45,447.26 L457.45,446.22 L459.46,445.15 L461.46,444.07 L463.47,442.98 L465.48,441.87 L467.48,440.75 L469.49,439.61 L471.5,438.46 L473.5,437.3 L475.51,436.12 L477.52,434.93 L479.52,433.73 L481.53,432.53 L483.53,431.31 L485.54,430.08 L487.55,428.84 L489.55,427.6 L491.56,426.35 L493.57,425.09 L495.57,423.83 L497.58,422.56 L499.58,421.29 L501.59,420.02 L503.6,418.74 L505.6,417.46 L507.61,416.19 L509.62,414.91 L511.62,413.63 L513.63,412.36 L515.64,411.09 L517.64,409.82 L519.65,408.56 L521.65,407.3 L523.66,406.05 L525.67,404.81 L527.67,403.57 L529.68,402.35 L531.69,401.13 L533.69,399.92 L535.7,398.72 L537.71,397.53 L539.71,396.36 L541.72,395.2 L543.72,394.05 L545.73,392.91 L547.74,391.79 L549.74,390.68 L551.75,389.58 L553.76,388.51 L555.76,387.44 L557.77,386.4 L559.77,385.37 L561.78,384.35 L563.79,383.35 L565.79,382.37 L567.8,381.41" fill="none" stroke="#4262c2" stroke-width="2.4" stroke-linejoin="round"/>
<circle cx="409.3" cy="346.4" r="2.5" fill="#e41a1c"/>
<circle cx="428.4" cy="346.4" r="2.5" fill="#4daf4a"/>
<circle cx="441" cy="346.4" r="2.5" fill="#4daf4a"/>
<circle cx="448.3" cy="346.4" r="2.5" fill="#984ea3"/>
<circle cx="451.8" cy="346.4" r="2.5" fill="#984ea3"/>
<circle cx="459.5" cy="346.4" r="2.5" fill="#984ea3"/>
<circle cx="480.2" cy="346.4" r="2.5" fill="#ff7f00"/>
<circle cx="495.5" cy="346.4" r="2.5" fill="#ff7f00"/>
<circle cx="508.2" cy="346.4" r="2.5" fill="#ff7f00"/>
<circle cx="490.6" cy="346.4" r="2.5" fill="#f5ec2a"/>
<circle cx="491.1" cy="346.4" r="2.5" fill="#f5ec2a"/>
<circle cx="535.6" cy="346.4" r="2.5" fill="#f5ec2a"/>
<circle cx="568" cy="346.4" r="2.5" fill="#f5ec2a"/>
<circle cx="409.3" cy="487.3" r="2.5" fill="#e41a1c"/>
<circle cx="418.2" cy="487.3" r="2.5" fill="#377eb8"/>
<circle cx="420.2" cy="487.3" r="2.5" fill="#377eb8"/>
<circle cx="422.2" cy="487.3" r="2.5" fill="#377eb8"/>
<circle cx="424.2" cy="487.3" r="2.5" fill="#377eb8"/>
<circle cx="433.5" cy="487.3" r="2.5" fill="#4daf4a"/>
<circle cx="436.45" cy="487.3" r="2.5" fill="#4daf4a"/>
<circle cx="439.4" cy="487.3" r="2.5" fill="#4daf4a"/>
<circle cx="442.35" cy="487.3" r="2.5" fill="#4daf4a"/>
<circle cx="445.3" cy="487.3" r="2.5" fill="#4daf4a"/>
<circle cx="455.1" cy="487.3" r="2.5" fill="#984ea3"/>
<circle cx="460.2" cy="487.3" r="2.5" fill="#984ea3"/>
<circle cx="466" cy="487.3" r="2.5" fill="#984ea3"/>
<circle cx="499.9" cy="487.3" r="2.5" fill="#984ea3"/>
<circle cx="471.2" cy="487.3" r="2.5" fill="#ff7f00"/>
<circle cx="493.3" cy="487.3" r="2.5" fill="#ff7f00"/>
<circle cx="535.6" cy="487.3" r="2.5" fill="#ff7f00"/>
<circle cx="489.6" cy="487.3" r="2.5" fill="#f5ec2a"/>
<circle cx="527.6" cy="487.3" r="2.5" fill="#f5ec2a"/>
<circle cx="562.9" cy="487.3" r="2.5" fill="#f5ec2a"/>
<line x1="409.4" y1="338.7" x2="409.4" y2="494.4" stroke="#e41a1c" stroke-width="4"/>
<line x1="421.5" y1="338.7" x2="421.5" y2="494.4" stroke="#377eb8" stroke-width="4"/>
<line x1="438.7" y1="338.7" x2="438.7" y2="494.4" stroke="#4daf4a" stroke-width="4"/>
<line x1="463.3" y1="338.7" x2="463.3" y2="494.4" stroke="#984ea3" stroke-width="4"/>
<line x1="497.2" y1="338.7" x2="497.2" y2="494.4" stroke="#ff7f00" stroke-width="4"/>
<line x1="529" y1="338.7" x2="529" y2="494.4" stroke="#f5ec2a" stroke-width="4"/>
<path d="M404.6,471.66 L409.4,467.86 L414.2,471.66 L409.4,475.46Z" fill="none" stroke="#e41a1c" stroke-width="1.1" stroke-opacity="0.85"/>
<path d="M433.9,452.5 L438.7,448.7 L443.5,452.5 L438.7,456.3Z" fill="none" stroke="#4daf4a" stroke-width="1.1" stroke-opacity="0.85"/>
<path d="M458.5,426.71 L463.3,422.91 L468.1,426.71 L463.3,430.51Z" fill="none" stroke="#984ea3" stroke-width="1.1" stroke-opacity="0.85"/>
<path d="M492.4,399.24 L497.2,395.44 L502,399.24 L497.2,403.04Z" fill="none" stroke="#ff7f00" stroke-width="1.1" stroke-opacity="0.85"/>
<path d="M524.2,416.85 L529,413.05 L533.8,416.85 L529,420.65Z" fill="none" stroke="#f5ec2a" stroke-width="1.1" stroke-opacity="0.85"/>
</g>
<line x1="393.4" y1="487.3" x2="396" y2="487.3" stroke="#333" stroke-width="0.8"/>
<text transform="translate(391.4,492.6) scale(1.04,1)" text-anchor="end" class="tk">0.00</text>
<line x1="393.4" y1="452.07" x2="396" y2="452.07" stroke="#333" stroke-width="0.8"/>
<text transform="translate(391.4,457.38) scale(1.04,1)" text-anchor="end" class="tk">0.25</text>
<line x1="393.4" y1="416.85" x2="396" y2="416.85" stroke="#333" stroke-width="0.8"/>
<text transform="translate(391.4,422.15) scale(1.04,1)" text-anchor="end" class="tk">0.50</text>
<line x1="393.4" y1="381.62" x2="396" y2="381.62" stroke="#333" stroke-width="0.8"/>
<text transform="translate(391.4,386.93) scale(1.04,1)" text-anchor="end" class="tk">0.75</text>
<line x1="393.4" y1="346.4" x2="396" y2="346.4" stroke="#333" stroke-width="0.8"/>
<text transform="translate(391.4,351.7) scale(1.04,1)" text-anchor="end" class="tk">1.00</text>
<line x1="409.3" y1="494.4" x2="409.3" y2="497" stroke="#333" stroke-width="0.8"/>
<text transform="translate(408.8,508) scale(1.04,1)" text-anchor="middle" class="tk">0</text>
<line x1="496.1" y1="494.4" x2="496.1" y2="497" stroke="#333" stroke-width="0.8"/>
<text transform="translate(493.4,508) scale(1.04,1)" text-anchor="middle" class="tk">2000</text>
<line x1="582.9" y1="494.4" x2="582.9" y2="497" stroke="#333" stroke-width="0.8"/>
<text transform="translate(580.2,508) scale(1.04,1)" text-anchor="middle" class="tk">4000</text>
<line x1="669.7" y1="494.4" x2="669.7" y2="497" stroke="#333" stroke-width="0.8"/>
<text transform="translate(667,508) scale(1.04,1)" text-anchor="middle" class="tk">6000</text>
<text transform="translate(364.3,414.8) rotate(-90) scale(0.965,1)" text-anchor="middle" class="ax">Probability of EPS</text>
<text transform="translate(500.8,523.2) scale(1.04,1)" class="ax">AUC (ng*hr/mL)</text>
<text transform="translate(150.9,31.9) scale(1.02,1)" class="lt">MRD Somnolence</text>
<text transform="translate(104.2,51.6) scale(1.04,1)" class="lt">Dose</text>
<path d="M136.3,46.9 L141.2,42 L146.1,46.9 L141.2,51.8Z" fill="none" stroke="#e41a1c" stroke-width="1.2" stroke-opacity="0.6"/>
<circle cx="141.2" cy="46.9" r="2.3" fill="#e41a1c"/>
<text transform="translate(147,51.6)" class="lk">0</text>
<path d="M157.1,46.9 L162,42 L166.9,46.9 L162,51.8Z" fill="none" stroke="#377eb8" stroke-width="1.2" stroke-opacity="0.6"/>
<circle cx="162" cy="46.9" r="2.3" fill="#377eb8"/>
<text transform="translate(167.9,51.6)" class="lk">3</text>
<path d="M178.3,46.9 L183.2,42 L188.1,46.9 L183.2,51.8Z" fill="none" stroke="#4daf4a" stroke-width="1.2" stroke-opacity="0.6"/>
<circle cx="183.2" cy="46.9" r="2.3" fill="#4daf4a"/>
<text transform="translate(188.8,51.6)" class="lk">10</text>
<path d="M204.1,46.9 L209,42 L213.9,46.9 L209,51.8Z" fill="none" stroke="#984ea3" stroke-width="1.2" stroke-opacity="0.6"/>
<circle cx="209" cy="46.9" r="2.3" fill="#984ea3"/>
<text transform="translate(214.8,51.6)" class="lk">20</text>
<path d="M230.6,46.9 L235.5,42 L240.4,46.9 L235.5,51.8Z" fill="none" stroke="#ff7f00" stroke-width="1.2" stroke-opacity="0.6"/>
<circle cx="235.5" cy="46.9" r="2.3" fill="#ff7f00"/>
<text transform="translate(241.4,51.6)" class="lk">30</text>
<path d="M257.7,46.9 L262.6,42 L267.5,46.9 L262.6,51.8Z" fill="none" stroke="#f5ec2a" stroke-width="1.2" stroke-opacity="0.6"/>
<circle cx="262.6" cy="46.9" r="2.3" fill="#f5ec2a"/>
<text transform="translate(269.1,51.6)" class="lk">100</text>
<text transform="translate(82.6,312) scale(1.013,1)" class="lt">MRD EPS (Subjects With Schizophrenia Only)</text>
<text transform="translate(101,329.8) scale(1.04,1)" class="lt">Dose</text>
<path d="M133.4,325.5 L138.3,320.6 L143.2,325.5 L138.3,330.4Z" fill="none" stroke="#e41a1c" stroke-width="1.2" stroke-opacity="0.6"/>
<circle cx="138.3" cy="325.5" r="2.3" fill="#e41a1c"/>
<text transform="translate(144.4,329.8)" class="lk">0</text>
<path d="M153.4,325.5 L158.3,320.6 L163.2,325.5 L158.3,330.4Z" fill="none" stroke="#377eb8" stroke-width="1.2" stroke-opacity="0.6"/>
<circle cx="158.3" cy="325.5" r="2.3" fill="#377eb8"/>
<text transform="translate(164.9,329.8)" class="lk">3</text>
<path d="M175.1,325.5 L180,320.6 L184.9,325.5 L180,330.4Z" fill="none" stroke="#4daf4a" stroke-width="1.2" stroke-opacity="0.6"/>
<circle cx="180" cy="325.5" r="2.3" fill="#4daf4a"/>
<text transform="translate(185.8,329.8)" class="lk">10</text>
<path d="M200.3,325.5 L205.2,320.6 L210.1,325.5 L205.2,330.4Z" fill="none" stroke="#984ea3" stroke-width="1.2" stroke-opacity="0.6"/>
<circle cx="205.2" cy="325.5" r="2.3" fill="#984ea3"/>
<text transform="translate(210.5,329.8)" class="lk">20</text>
<path d="M226.5,325.5 L231.4,320.6 L236.3,325.5 L231.4,330.4Z" fill="none" stroke="#ff7f00" stroke-width="1.2" stroke-opacity="0.6"/>
<circle cx="231.4" cy="325.5" r="2.3" fill="#ff7f00"/>
<text transform="translate(237,329.8)" class="lk">30</text>
<path d="M253.1,325.5 L258,320.6 L262.9,325.5 L258,330.4Z" fill="none" stroke="#f5ec2a" stroke-width="1.2" stroke-opacity="0.6"/>
<circle cx="258" cy="325.5" r="2.3" fill="#f5ec2a"/>
<text transform="translate(264,329.8)" class="lk">100</text>
<text transform="translate(0.5,15.6) scale(0.9945,1)" class="ti"><tspan font-weight="bold">(a)</tspan> C<tspan font-size="10.5" dy="2.2">max</tspan><tspan dy="-2.2"> vs somnolence</tspan><tspan font-size="9.8" dy="-8">a</tspan></text>
<text transform="translate(351.8,15.6) scale(1.0115,1)" class="ti"><tspan font-weight="bold">(b)</tspan> AUC vs somnolence<tspan font-size="9.8" dy="-8">b</tspan></text>
<text transform="translate(1.4,285.1) scale(0.997,1)" class="ti"><tspan font-weight="bold">(c)</tspan> C<tspan font-size="10.5" dy="2.2">max</tspan><tspan dy="-2.2"> vs extrapyramidal syndromes</tspan><tspan font-size="9.8" dy="-8">c</tspan></text>
<text transform="translate(351.4,284.8) scale(1.011,1)" class="ti"><tspan font-weight="bold">(d)</tspan> AUC vs extrapyramidal syndromes<tspan font-size="9.8" dy="-8">d</tspan></text>
<line x1="7" y1="525.2" x2="50" y2="525.2" stroke="#dddddd" stroke-width="0.8"/>
<line x1="529" y1="525.6" x2="577" y2="525.6" stroke="#e4e4e4" stroke-width="0.8"/>
</svg>
</body></html>
